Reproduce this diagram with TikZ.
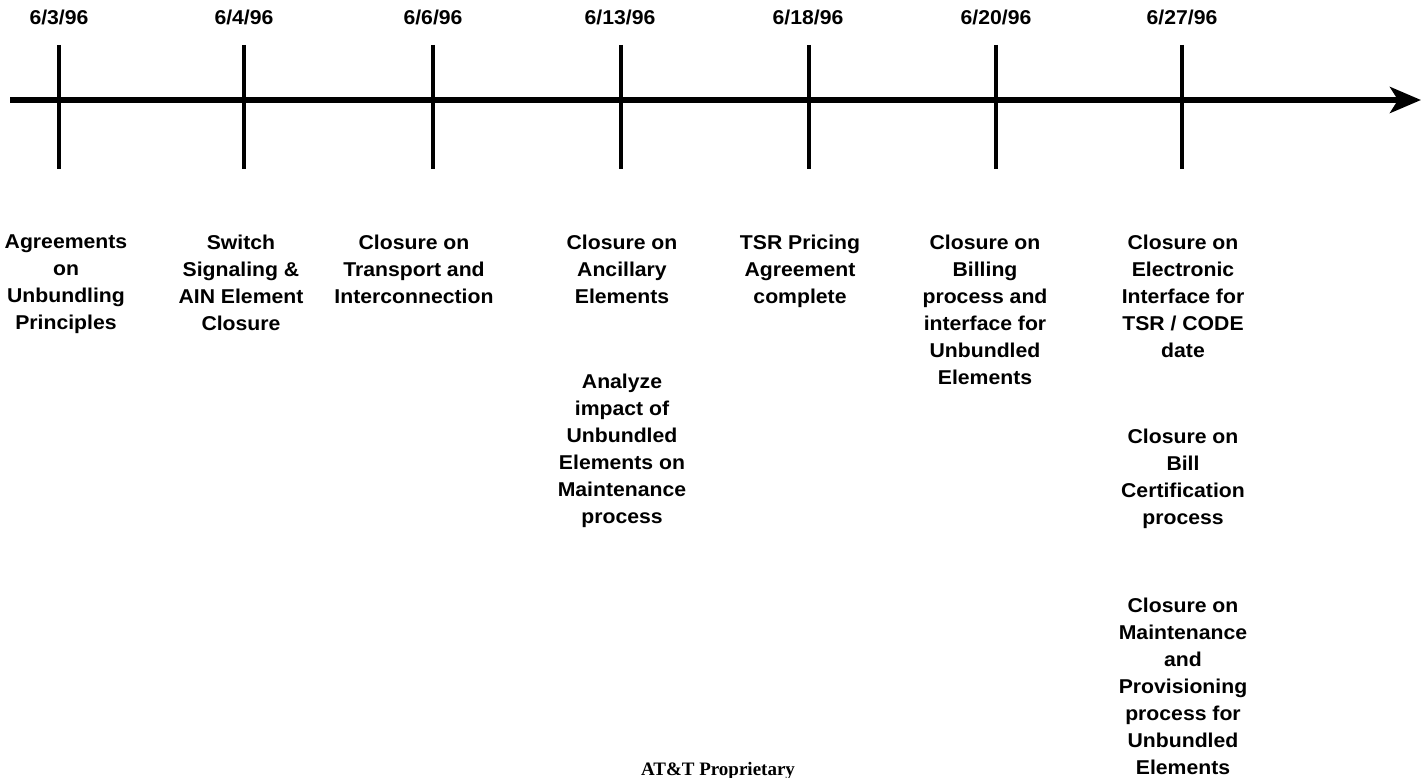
\documentclass[tikz,border=0pt]{standalone}
\usepackage{fontspec}
\setmainfont{Liberation Sans}[FakeStretch=1.06]
\newfontfamily\footfont{Liberation Serif}
\usetikzlibrary{arrows.meta}
\begin{document}
\begin{tikzpicture}[x=1pt,y=-1pt,
  axisline/.style={line width=5.5pt,-{Stealth[length=31pt,width=26pt,inset=8pt]}},
  tickline/.style={line width=3.5pt},
  datelabel/.style={anchor=base,inner sep=0pt,font=\fontsize{20}{24}\selectfont\bfseries},
  milestone/.style={anchor=north,inner sep=0pt,align=center,font=\fontsize{20}{27}\selectfont\bfseries},
  footer/.style={anchor=base,inner sep=0pt,font=\footfont\fontsize{19}{22}\selectfont\bfseries}]
\useasboundingbox[fill=white] (0,0) rectangle (1421,778);
% axis
\coordinate (axL) at (10,100);
\coordinate (axR) at (1421,100);
\draw[axisline] (axL) -- (axR);
% ticks
\foreach \n/\x in {1/59,2/244,3/433,4/621,5/809,6/996,7/1182}{
  \coordinate (ta\n) at (\x,45);
  \coordinate (tb\n) at (\x,169);
  \draw[tickline] (ta\n) -- (tb\n);
}
% dates
\node[datelabel] (d1) at (59,25) {6/3/96};
\node[datelabel] (d2) at (244,25) {6/4/96};
\node[datelabel] (d3) at (433,25) {6/6/96};
\node[datelabel] (d4) at (620,25) {6/13/96};
\node[datelabel] (d5) at (808,25) {6/18/96};
\node[datelabel] (d6) at (996,25) {6/20/96};
\node[datelabel] (d7) at (1182,25) {6/27/96};
% milestones
\node[milestone] (m1) at (66,235) {Agreements\\on\\Unbundling\\Principles};
\node[milestone] (m2) at (241,235) {Switch\\Signaling \&\\AIN Element\\Closure};
\node[milestone] (m3) at (414,235) {Closure on\\Transport and\\Interconnection};
\node[milestone] (m4) at (622,235) {Closure on\\Ancillary\\Elements};
\node[milestone] (m4b) at (622,374) {Analyze\\impact of\\Unbundled\\Elements on\\Maintenance\\process};
\node[milestone] (m5) at (800,235) {TSR Pricing\\Agreement\\complete};
\node[milestone] (m6) at (985,235) {Closure on\\Billing\\process and\\interface for\\Unbundled\\Elements};
\node[milestone] (m7) at (1183,235) {Closure on\\Electronic\\Interface for\\TSR / CODE\\date};
\node[milestone] (m7b) at (1183,429) {Closure on\\Bill\\Certification\\process};
\node[milestone] (m7c) at (1183,597.5) {Closure on\\Maintenance\\and\\Provisioning\\process for\\Unbundled\\Elements};
% footer
\node[footer] (foot) at (718,775) {AT\&T Proprietary};
\end{tikzpicture}
\end{document}
